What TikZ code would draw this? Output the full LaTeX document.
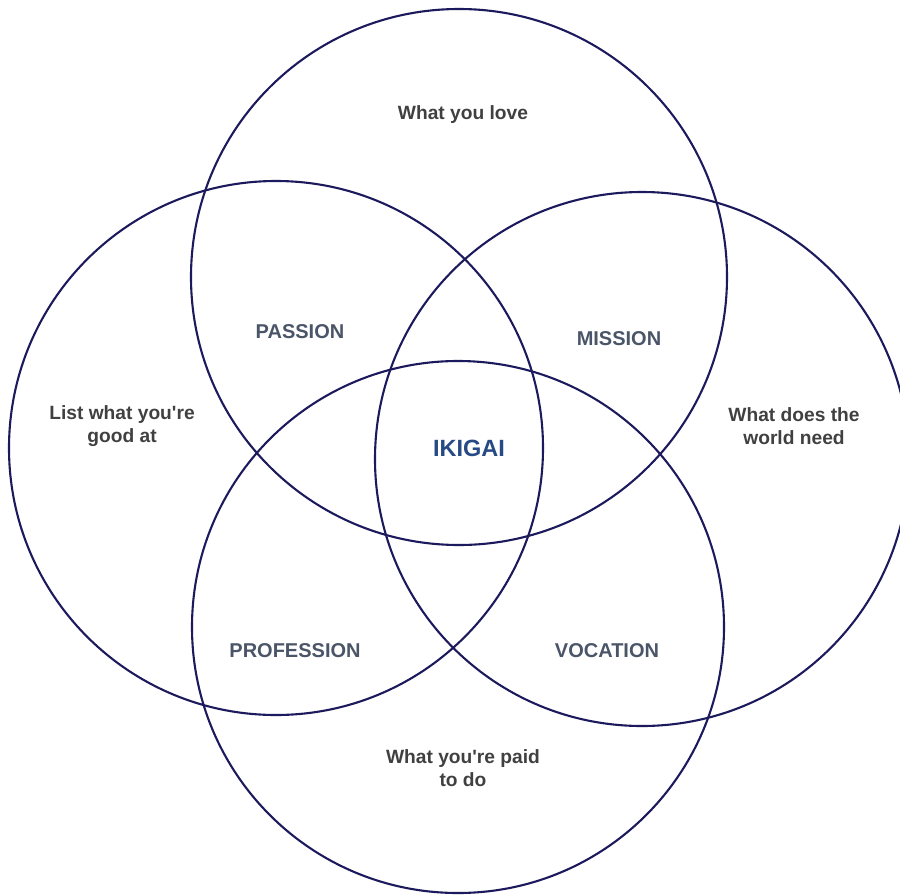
\documentclass[tikz,border=0pt]{standalone}
\usepackage{fontspec}
\setmainfont{Liberation Sans}
\definecolor{ring}{HTML}{1C1A5C}
\definecolor{txt}{HTML}{404040}
\definecolor{cat}{HTML}{4A5568}
\definecolor{core}{HTML}{274A85}
\newcommand{\ap}{\textquotesingle}
\begin{document}
\begin{tikzpicture}[x=1pt,y=-1pt,
  ringline/.style={draw=ring,line width=2.1pt},
  lab/.style={font=\fontsize{19.2}{23}\selectfont\bfseries,text=txt,align=center,inner sep=0pt},
  catlab/.style={font=\fontsize{20}{23}\selectfont\bfseries,text=cat,align=center,inner sep=0pt},
  corelab/.style={font=\fontsize{23.5}{23}\selectfont\bfseries,text=core,align=center,inner sep=0pt}]
\useasboundingbox (0,0) rectangle (900,895);
\begin{scope}
\clip (0,0) rectangle (900,895);
\draw[ringline] (459,277) circle (268);
\draw[ringline] (276,448) circle (267);
\draw[ringline] (642,459) circle (267);
\draw[ringline] (458,627) circle (266);
\end{scope}
\node[lab] (love) at (463,115) {What you love};
\node[lab] (good) at (122,426) {List what you\ap re\\good at};
\node[lab] (need) at (794,426) {What does the\\world need};
\node[lab] (paid) at (463,768) {What you\ap re paid\\to do};
\node[catlab] (passion) at (300,332) {PASSION};
\node[catlab] (mission) at (619,339) {MISSION};
\node[catlab] (profession) at (295,651) {PROFESSION};
\node[catlab] (vocation) at (607,651) {VOCATION};
\node[corelab] (ikigai) at (469,448) {IKIGAI};
\end{tikzpicture}
\end{document}
